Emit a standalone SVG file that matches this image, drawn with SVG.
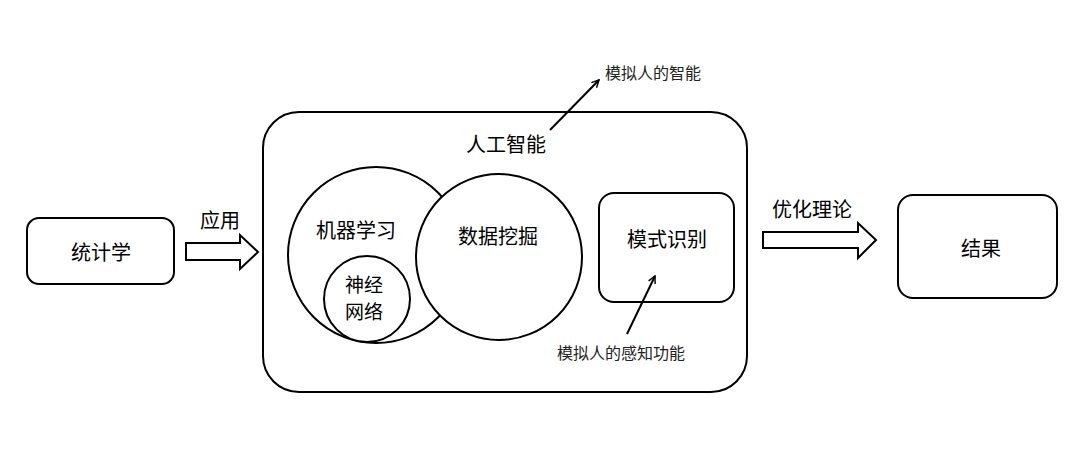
<svg xmlns="http://www.w3.org/2000/svg" width="1080" height="462" viewBox="0 0 1080 462">
<defs>
<style>
.s{fill:#fff;stroke:#000;stroke-width:2}
.t{font-family:"Noto Sans CJK SC","Noto Sans",sans-serif;font-size:20px;fill:#000;text-anchor:middle;dominant-baseline:central}
.sm{font-size:16px;fill:#222}
.nn{font-size:19px}
.ln{stroke:#000;stroke-width:2;fill:none}
</style>
<marker id="ah" viewBox="0 0 10 10" refX="9" refY="5" markerWidth="9" markerHeight="9" markerUnits="userSpaceOnUse" orient="auto"><path d="M1,1 L9,5 L1,9" fill="none" stroke="#000" stroke-width="1.6"/></marker>
</defs>
<rect width="1080" height="462" fill="#fff"/>
<g id="stats"><rect class="s" x="27" y="218" width="147" height="66" rx="12"/><text class="t" x="101" y="251">统计学</text></g>
<g id="ai">
<rect class="s" x="263" y="112" width="484" height="280" rx="36"/>
<text class="t" x="506" y="143">人工智能</text>
</g>
<g id="ml"><circle class="s" cx="376" cy="255" r="88"/><text class="t" x="356" y="229">机器学习</text></g>
<g id="nn"><circle class="s" cx="367" cy="299" r="43"/><text class="t nn" x="364" y="283">神经</text><text class="t nn" x="364" y="310">网络</text></g>
<g id="dm"><circle class="s" cx="499" cy="257" r="83"/><text class="t" x="498" y="235">数据挖掘</text></g>
<g id="pr"><rect class="s" x="599" y="193" width="135" height="109" rx="15"/><text class="t" x="667" y="238">模式识别</text></g>
<g id="result"><rect class="s" x="898" y="195" width="159" height="103" rx="15"/><text class="t" x="981" y="247">结果</text></g>
<g id="connectors">
<path class="s" d="M186,243 H240 V235 L258,252 L240,269 V260 H186 Z"/>
<text class="t" x="220" y="219">应用</text>
<path class="s" d="M763,232 H858 V223 L876,240 L858,258 V248 H763 Z"/>
<text class="t" x="812" y="208">优化理论</text>
<line class="ln" x1="550" y1="130" x2="599" y2="80" marker-end="url(#ah)"/>
<text class="t sm" x="653" y="72">模拟人的智能</text>
<line class="ln" x1="627" y1="334" x2="655" y2="276" marker-end="url(#ah)"/>
<text class="t sm" x="621" y="352">模拟人的感知功能</text>
</g>
</svg>
